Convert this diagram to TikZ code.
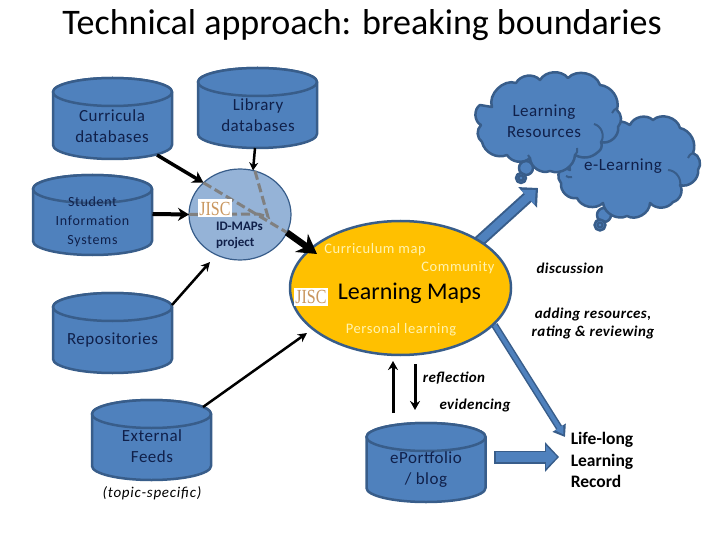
\documentclass[tikz,border=0pt]{standalone}
\usepackage{fontspec}
\setmainfont{Carlito}
\newfontfamily\jiscfont{Liberation Serif}
\usetikzlibrary{arrows.meta,calc,shapes.geometric}
\definecolor{blu}{HTML}{4F81BD}
\definecolor{edg}{HTML}{385D8A}
\definecolor{navy}{HTML}{10204A}
\definecolor{pale}{HTML}{95B3D7}
\definecolor{gold}{HTML}{FFC000}
\definecolor{cream}{HTML}{FFF3B0}
\definecolor{jisc}{HTML}{C9965E}
\tikzset{
  shape cyl/.style={fill=blu,draw=edg,line width=2.5pt,line join=round},
  cyl text/.style={inner sep=0pt,outer sep=0pt,align=center,text=navy,font=\fontsize{17}{21}\selectfont\addfontfeature{LetterSpace=3}},
  sis text/.style={cyl text,font=\fontsize{14}{19}\selectfont\addfontfeature{LetterSpace=5}},
  lab/.style={inner sep=0pt,outer sep=0pt,align=center},
  ital/.style={lab,font=\fontsize{15}{18}\selectfont\itshape\addfontfeature{LetterSpace=5}},
  ital bold/.style={lab,font=\fontsize{15}{18}\selectfont\itshape\bfseries\addfontfeature{LetterSpace=3}},
  pale lab/.style={lab,text=cream,font=\fontsize{14.5}{18}\selectfont\addfontfeature{LetterSpace=4}},
  logo/.style={fill=white,inner sep=0pt,outer sep=0pt,minimum width=34pt,minimum height=18pt,text=jisc,font=\jiscfont\fontsize{20}{20}\selectfont},
  cloudy/.style={fill=blu,draw=edg,line width=2.5pt,line join=round},
  crease/.style={draw=edg,line width=2pt},
  feed/.style={draw=black,line cap=butt},
  dashline/.style={draw=gray,line width=3pt,dash pattern=on 9pt off 4pt},
  big oval/.style={draw=edg,fill=gold,line width=2.5pt,ellipse,minimum width=221pt,minimum height=134pt,inner sep=0pt,outer sep=0pt},
}
\newcommand{\cylshape}[4]{% cx, top, bottom, half width
  \path[shape cyl] (#1-#4,#2+14) -- (#1-#4,#3-14)
    arc[start angle=180,end angle=360,x radius=#4pt,y radius=14pt]
    -- (#1+#4,#2+14)
    arc[start angle=0,end angle=180,x radius=#4pt,y radius=14pt] -- cycle;
  \draw[shape cyl] (#1,#2+14) ellipse[x radius=#4pt,y radius=14pt];
}
\begin{document}
\begin{tikzpicture}[x=1pt,y=-1pt]
\useasboundingbox (0,0) rectangle (720,540);
\node[lab,font=\fontsize{36}{40}\selectfont] (title) at (362,25) {Technical approach: breaking boundaries};

\coordinate (lmc) at (400.5,288);
\coordinate (ctop) at (538,188);
\coordinate (cllr) at (565,437);

% clouds
\path[cloudy] (604,215) circle[radius=7pt];
\path[cloudy] (600,225) circle[radius=5.5pt];
\draw[crease] (600,225) circle[radius=2.5pt];
\path[cloudy] (570,170) to[bend left=70] (630,125) to[bend left=55] (653,120) to[bend left=60] (680,128) to[bend left=50] (693,153) to[bend left=55] (698,170) to[bend left=60] (680,185) to[bend left=55] (673,202) to[bend left=50] (650,203) to[bend left=60] (627,216) to[bend left=55] (603,203) to[bend left=55] (577,198) to[bend left=55] (561,183) to[bend left=50] (563,167) -- cycle;
\draw[crease] (693,153) to[bend right=25] (688,158);
\draw[crease] (668,170) to[bend left=50] (680,186);
\draw[crease] (566,176) to[bend right=25] (572,177);
\path[cloudy] (526,168) circle[radius=7pt];
\path[cloudy] (521,178) circle[radius=5pt];
\draw[crease] (521,178) circle[radius=2.5pt];
\path[cloudy] (492,107) to[bend left=65] (516,83) to[bend left=55] (540,80) to[bend left=55] (568,78) to[bend left=60] (600,85) to[bend left=50] (617,110) to[bend left=45] (618,127) to[bend left=60] (601,142) to[bend left=40] (598,152) to[bend left=35] (575,155) to[bend left=55] (550,171) to[bend left=55] (530,158) to[bend left=50] (507,155) to[bend left=50] (482,142) to[bend left=50] (481,125) to[bend left=60] (480,105) -- cycle;
\draw[crease] (594,124) to[bend left=55] (601,142);
\draw[crease] (575,155) to[bend right=35] (577,148);
\draw[crease] (530,158) to[bend left=20] (528,155);
\draw[crease] (612,113) to[bend left=15] (617,108);

% block arrows that run out from under the oval
\draw[draw=edg,line width=12pt,-{Triangle[length=14pt,width=27pt]}] ($(lmc)+(78,-46)$) -- (ctop);
\draw[draw=blu,line width=8pt,shorten >=3pt,-{Triangle[length=11pt,width=20pt]}] ($(lmc)+(78,-46)$) -- (ctop);
\draw[draw=edg,line width=7pt,-{Triangle[length=11pt,width=15pt]}] ($(lmc)+(94,37)$) -- (cllr);
\draw[draw=blu,line width=4pt,shorten >=3pt,-{Triangle[length=8pt,width=9pt]}] ($(lmc)+(94,37)$) -- (cllr);
\node[big oval] (lm) at (lmc) {};

% cylinders
\cylshape{112.5}{78}{159}{59.5}
\cylshape{257.5}{68}{148}{59.5}
\cylshape{92.5}{175}{255}{59.5}
\cylshape{112.5}{293}{373}{59.5}
\cylshape{151.5}{400}{480}{59.5}
\cylshape{426}{423}{502}{59.5}
\node[cyl text] (cur) at (112,126.5) {Curricula\\databases};
\node[cyl text] (libr) at (258,115.5) {Library\\databases};
\node[sis text] (sis) at (92.5,222) {Student\\Information\\Systems};
\node[cyl text] (rep) at (112.5,340) {Repositories};
\node[cyl text] (ext) at (152,446.5) {External\\Feeds};
\node[cyl text] (epf) at (426,470) {ePortfolio\\/ blog};

% ID-MAPs circle
\node[draw=edg,fill=pale,line width=1.2pt,ellipse,minimum width=102pt,minimum height=91pt,inner sep=0pt,outer sep=0pt] (id) at (240,214.5) {};
\coordinate (j1) at (268,217);
\coordinate (j2) at (258,214);
\draw[dashline] (id.139) -- (id.-21);
\draw[dashline] (id.180) -- (j2);
\draw[dashline] (id.71) -- (j1) -- (j2);
\node[logo] (jis1) at (215,208.5) {\scalebox{.8}[1]{JISC}};
\node[lab,text=navy,align=left,font=\fontsize{13}{16}\selectfont\bfseries] (idt) at (239.5,235) {ID-MAPs\\project};

% connectors
\draw[feed,line width=3.5pt,-{Stealth[length=11pt,width=13pt]}] ($(cur.center)+(45,28.5)$) -- (id.139);
\draw[feed,line width=2.5pt,-{Stealth[length=8pt,width=9pt]}] ($(libr.center)+(-3,32.5)$) -- ($(id.center)+(13,-44)$);
\draw[feed,line width=4pt,-{Stealth[length=11pt,width=13pt]}] ($(sis.center)+(60,-8)$) -- (id.180);
\draw[feed,line width=2.5pt,-{Stealth[length=9pt,width=9pt]}] ($(rep.center)+(59.5,-35)$) -- ($(id.center)+(-30,47.5)$);
\draw[feed,line width=2.5pt,-{Stealth[length=9pt,width=9pt]}] ($(ext.center)+(51,-39.5)$) -- ($(lm.center)+(-93.5,45)$);
\draw[feed,line width=6.5pt,-{Stealth[length=19pt,width=22pt]}] (id.-21) -- ($(lm.center)+(-83.5,-34)$);
\draw[feed,line width=3pt,-{Stealth[length=9pt,width=10pt]}] ($(epf.center)+(-33,-57)$) -- ($(lm.south)+(-7.5,6)$);
\draw[feed,line width=3pt,-{Stealth[length=9pt,width=10pt]}] ($(lm.south)+(14.5,9)$) -- ($(epf.center)+(-11,-60)$);
\draw[draw=edg,line width=13pt,-{Triangle[length=14pt,width=29pt]}] ($(epf.center)+(68,-13)$) -- ++(65,0) coordinate (c3);
\draw[draw=blu,line width=10pt,shorten >=2pt,shorten <=1.5pt,-{Triangle[length=11pt,width=22pt]}] ($(epf.center)+(68,-13)$) -- (c3);

% labels
\node[cyl text] (lres) at (544,121) {Learning\\Resources};
\node[cyl text] (elearn) at (623,166) {e-Learning};
\node[pale lab] (cmap) at (375,250) {Curriculum map};
\node[pale lab] (comm) at (458,268) {Community};
\node[lab,font=\fontsize{24}{28}\selectfont] (lmt) at (409.5,293.5) {Learning Maps};
\node[logo] (jis2) at (311,296.5) {\scalebox{.8}[1]{JISC}};
\node[pale lab] (perl) at (401,330) {Personal learning};
\node[ital bold] (disc) at (570,268) {discussion};
\node[ital bold] (addr) at (593,323) {adding resources,\\rating \& reviewing};
\node[ital bold] (refl) at (454,378) {reflection};
\node[ital bold] (evid) at (475,405) {evidencing};
\node[ital] (topic) at (152,493) {(topic-specific)};
\node[lab,align=left,font=\fontsize{17.5}{21.5}\selectfont\bfseries] (lll) at (602,460) {Life-long\\Learning\\Record};
\end{tikzpicture}
\end{document}
